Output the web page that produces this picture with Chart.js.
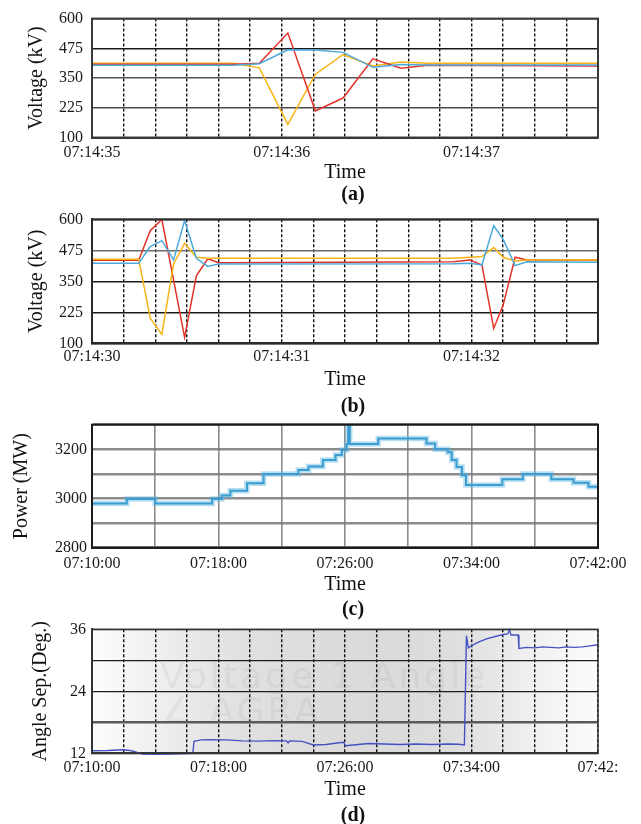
<!DOCTYPE html>
<html><head><meta charset="utf-8">
<script src="https://cdn.jsdelivr.net/npm/chart.js@4.4.1/dist/chart.umd.min.js"></script>
<style>
html,body{margin:0;padding:0;background:#fff;}
body{width:641px;height:824px;position:relative;overflow:hidden;}
canvas{position:absolute;left:0;}
.cap{position:absolute;font:bold 20px "Liberation Serif","Times New Roman",serif;color:#111;transform:translate(-50%,-50%);white-space:nowrap;}
</style></head><body>
<canvas id="ca" width="641" height="185" style="top:0px"></canvas>
<canvas id="cb" width="641" height="192" style="top:200px"></canvas>
<canvas id="cc" width="641" height="192" style="top:405px"></canvas>
<canvas id="cd" width="641" height="190" style="top:612px"></canvas>
<div class="cap" style="left:353px;top:193px">(a)</div>
<div class="cap" style="left:353px;top:405px">(b)</div>
<div class="cap" style="left:353px;top:608px">(c)</div>
<div class="cap" style="left:353px;top:814px">(d)</div>
<script>
// ---------- Panel (a): seconds after 07:14:35 ----------
const timeA   = [0, 0.742, 0.882, 1.032, 1.177, 1.323, 1.48, 1.628, 1.767, 2.6667];
const redA    = [408, 408, 412, 539, 212, 266, 431, 391, 404, 401];
const blueA   = [404, 404, 410, 469, 468, 458, 395, 407, 405, 405];
const yellowA = [412, 412, 393, 155, 365, 449, 401, 417, 412, 412];
const xLabelsA = ['07:14:35', '07:14:36', '07:14:37'];

// ---------- Panel (b): seconds after 07:14:30 ----------
const timeB   = [0, 0.246, 0.307, 0.368, 0.43, 0.488, 0.55, 0.61, 0.667, 1.905, 1.993, 2.055, 2.117, 2.167, 2.23, 2.292, 2.6667];
const redB    = [435, 435, 554, 600, 355, 124, 372, 441, 425, 429, 436, 416, 160, 255, 447, 436, 435];
const blueB   = [423, 423, 490, 514, 436, 595, 443, 410, 420, 421, 423, 416, 574, 519, 413, 429, 427];
const yellowB = [439, 439, 201, 136, 420, 503, 447, 443, 443, 443, 447, 450, 486, 447, 432, 436, 436];
const xLabelsB = ['07:14:30', '07:14:31', '07:14:32'];

const voltTicks = [100, 225, 350, 475, 600];

// ---------- Panel (c): minutes after 07:10:00 ----------
const timeC  = [0, 2.2, 4.0, 7.6, 8.2, 8.75, 9.8, 10.85, 13.05, 13.7, 14.6, 15.4, 15.8, 16.1, 16.2, 16.3, 18.1, 21.15, 21.7, 22.5, 22.75, 23.05, 23.4, 23.65, 25.95, 27.25, 29.05, 30.45, 31.4, 32];
const powerC = [2980, 2998, 2980, 2998, 3012, 3032, 3062, 3100, 3116, 3130, 3156, 3177, 3197, 3222, 3310, 3222, 3244, 3224, 3200, 3188, 3156, 3128, 3095, 3055, 3078, 3100, 3078, 3064, 3048, 3048];
const xLabelsC = ['07:10:00', '07:18:00', '07:26:00', '07:34:00', '07:42:00'];
const yLabelsC = [2800, 3000, 3200];

// ---------- Panel (d): minutes after 07:10:00 ----------
const timeD  = [0, 1.0, 2.0, 2.5, 3.2, 4.0, 5.0, 6.0, 6.38, 6.45, 6.9, 7.5, 8.5, 9.5, 10.5, 11.5, 12.3, 12.4, 12.5, 13.3, 14.0, 14.8, 15.5, 15.9, 16.05, 16.5, 17.5, 18.5, 19.5, 20.5, 21.5, 22.5, 23.2, 23.55, 23.68, 23.8, 24.1, 24.5, 25.0, 25.5, 26.0, 26.3, 26.4, 26.5, 26.95, 27.0, 27.5, 28.0, 28.5, 29.0, 29.5, 30.0, 30.5, 31.0, 31.5, 32.0];
const angleD = [12.5, 12.55, 12.7, 12.5, 11.85, 11.8, 11.85, 11.95, 12.0, 14.3, 14.6, 14.65, 14.6, 14.4, 14.35, 14.45, 14.4, 14.0, 14.4, 14.3, 13.6, 13.7, 14.0, 14.15, 13.45, 13.6, 13.9, 13.8, 13.7, 13.8, 13.7, 13.8, 13.75, 13.6, 34.8, 32.4, 33.0, 33.6, 34.2, 34.6, 35.0, 35.1, 35.9, 34.9, 34.9, 32.3, 32.5, 32.4, 32.6, 32.5, 32.4, 32.6, 32.5, 32.6, 32.8, 33.0];
const xLabelsD = ['07:10:00', '07:18:00', '07:26:00', '07:34:00', '07:42:'];
const yLabelsD = [12, 24, 36];

// ---------- helpers ----------
const SERIF = '"Liberation Serif", "Times New Roman", serif';
Chart.defaults.font.family = SERIF;
Chart.defaults.color = '#1a1a1a';
Chart.defaults.animation = false;

function pts(t, v) { return t.map((x, i) => ({ x: x, y: v[i] })); }

const chartDecor = {
  id: 'chartDecor',
  beforeDraw(chart, args, o) {
    const a = chart.chartArea, ctx = chart.ctx;
    if (o.gradient) {
      const g = ctx.createLinearGradient(a.left, 0, a.right, 0);
      o.gradient.forEach(s => g.addColorStop(s[0], s[1]));
      ctx.save(); ctx.fillStyle = g; ctx.fillRect(a.left, a.top, a.width, a.height); ctx.restore();
    }
    if (o.watermark) {
      ctx.save();
      ctx.font = o.watermark.font; ctx.fillStyle = o.watermark.color;
      if ('letterSpacing' in ctx) ctx.letterSpacing = o.watermark.spacing;
      ctx.textBaseline = 'alphabetic';
      o.watermark.lines.forEach(l => ctx.fillText(l.text, l.x, l.y));
      ctx.restore();
    }
  },
  afterDraw(chart, args, o) {
    const a = chart.chartArea, ctx = chart.ctx;
    ctx.save();
    ctx.strokeStyle = o.frameColor || '#333';
    ctx.lineWidth = o.frameWidth || 2;
    ctx.strokeRect(a.left, a.top, a.width, a.height);
    ctx.restore();
  }
};
Chart.register(chartDecor);

function panel(id, o) {
  return new Chart(document.getElementById(id), {
    type: 'line',
    data: { datasets: o.datasets },
    options: {
      responsive: false, animation: false, events: [],
      layout: { padding: { top: o.padTop, right: 43, left: 0, bottom: 0 } },
      elements: { point: { radius: 0 }, line: { tension: 0, borderWidth: 1.5 } },
      plugins: { legend: { display: false }, tooltip: { enabled: false }, chartDecor: o.decor },
      scales: {
        x: {
          type: 'linear', min: o.xMin, max: o.xMax,
          afterFit: s => { s.height = o.xH; },
          afterBuildTicks: o.xTickValues ? (s => { s.ticks = o.xTickValues.map(v => ({ value: v })); }) : undefined,
          ticks: { autoSkip: false, maxRotation: 0, minRotation: 0, padding: o.xPad, stepSize: o.xStep,
                   callback: o.xCb, font: { size: 16 }, color: '#1a1a1a' },
          grid: { color: o.xGridColor, lineWidth: o.xGridW, drawTicks: false },
          border: { display: true, color: '#333', width: 2, dash: o.xDash || [] },
          title: { display: true, text: 'Time', font: { size: 20 }, color: '#111', padding: { top: 0, bottom: 0 } }
        },
        y: {
          min: o.yMin, max: o.yMax,
          afterFit: s => { s.width = 92; },
          ticks: { stepSize: o.yStep, padding: o.yPad, callback: o.yCb, font: { size: 16 }, color: '#1a1a1a' },
          grid: { color: o.yGridColor, lineWidth: o.yGridW, drawTicks: false },
          border: { display: true, color: '#333', width: 2 },
          title: { display: true, text: o.yTitle, font: { size: 20 }, color: '#111', padding: { top: o.yTitlePad, bottom: 0 } }
        }
      }
    }
  });
}

const sixths = Array.from({ length: 17 }, (_, k) => k / 6);
function secLabel(labels) {
  return v => { const i = Math.round(v); return Math.abs(v - i) < 1e-6 && labels[i] !== undefined ? labels[i] : ''; };
}
const RED = '#e3342a', BLUE = '#4ca9da', YELLOW = '#f8b416';

// (a)
panel('ca', {
  padTop: 14.5, xH: 47.5, xPad: 6,
  xMin: 0, xMax: 16 / 6, xTickValues: sixths, xCb: secLabel(xLabelsA),
  xGridColor: '#111', xGridW: 1.4, xDash: [3, 2],
  yMin: 100, yMax: 600, yStep: 125, yPad: 9, yCb: v => voltTicks.includes(v) ? String(v) : '',
  yGridColor: c => ({ 475: '#1a1a1a', 350: '#555', 225: '#4a4a4a' }[c.tick.value] || '#333'), yGridW: 1.6,
  yTitle: 'Voltage (kV)', yTitlePad: 25,
  decor: { frameColor: '#3a3a3a', frameWidth: 2 },
  datasets: [
    { data: pts(timeA, blueA), borderColor: BLUE },
    { data: pts(timeA, redA), borderColor: RED },
    { data: pts(timeA, yellowA), borderColor: YELLOW }
  ]
});

// (b)
panel('cb', {
  padTop: 19.3, xH: 48.7, xPad: 4,
  xMin: 0, xMax: 16 / 6, xTickValues: sixths, xCb: secLabel(xLabelsB),
  xGridColor: '#111', xGridW: 1.4, xDash: [3, 2],
  yMin: 100, yMax: 600, yStep: 125, yPad: 9, yCb: v => voltTicks.includes(v) ? String(v) : '',
  yGridColor: c => ({ 475: '#6a6a6a', 350: '#1a1a1a', 225: '#1a1a1a' }[c.tick.value] || '#333'), yGridW: 1.6,
  yTitle: 'Voltage (kV)', yTitlePad: 25,
  decor: { frameColor: '#2a2a2a', frameWidth: 2 },
  datasets: [
    { data: pts(timeB, blueB), borderColor: BLUE },
    { data: pts(timeB, yellowB), borderColor: YELLOW },
    { data: pts(timeB, redB), borderColor: RED }
  ]
});

// (c)
panel('cc', {
  padTop: 19.7, xH: 49.3, xPad: 6,
  xMin: 0, xMax: 32, xStep: 4, xCb: v => (v % 8 === 0 ? xLabelsC[v / 8] : ''),
  xGridColor: '#8c8c8c', xGridW: 1.6,
  yMin: 2800, yMax: 3300, yStep: 100, yPad: 5, yCb: v => yLabelsC.includes(v) ? String(v) : '',
  yGridColor: 'rgba(120,120,120,0.85)', yGridW: 2.6,
  yTitle: 'Power (MW)', yTitlePad: 10,
  decor: { frameColor: '#1a1a1a', frameWidth: 2 },
  datasets: [
    { data: pts(timeC, powerC), borderColor: 'rgba(95,185,228,0.45)', borderWidth: 5.5, stepped: true },
    { data: pts(timeC, powerC), borderColor: '#1c86bf', borderWidth: 2, stepped: true }
  ]
});

// (d)
panel('cd', {
  padTop: 17.3, xH: 48.7, xPad: 5,
  xMin: 0, xMax: 32, xStep: 2, xCb: v => (v % 8 === 0 ? xLabelsD[v / 8] : ''),
  xGridColor: '#111', xGridW: 1.4, xDash: [3, 2],
  yMin: 12, yMax: 36, yStep: 6, yPad: 6, yCb: v => yLabelsD.includes(v) ? String(v) : '',
  yGridColor: c => (c.tick.value === 18 ? '#5a5a5a' : '#1e1e1e'), yGridW: c => (c.tick.value === 18 ? 2.4 : 1.3),
  yTitle: 'Angle Sep.(Deg.)', yTitlePad: 29,
  decor: {
    frameColor: '#333', frameWidth: 1.5,
    gradient: [[0, '#fdfdfd'], [0.16, '#ececec'], [0.3, '#e0e0e0'], [0.55, '#dadada'], [0.72, '#dedede'], [0.86, '#efefef'], [1, '#fcfcfc']],
    watermark: {
      font: '36px "DejaVu Sans", sans-serif', color: 'rgba(140,140,140,0.11)', spacing: '3px',
      lines: [{ text: 'Voltage 1 Angle', x: 160, y: 76 }, { text: '\u2220 AGRA', x: 160, y: 111 }]
    }
  },
  datasets: [
    { data: pts(timeD, angleD), borderColor: '#4552c2', borderWidth: 1.4, clip: 6 }
  ]
});
</script>
</body></html>
